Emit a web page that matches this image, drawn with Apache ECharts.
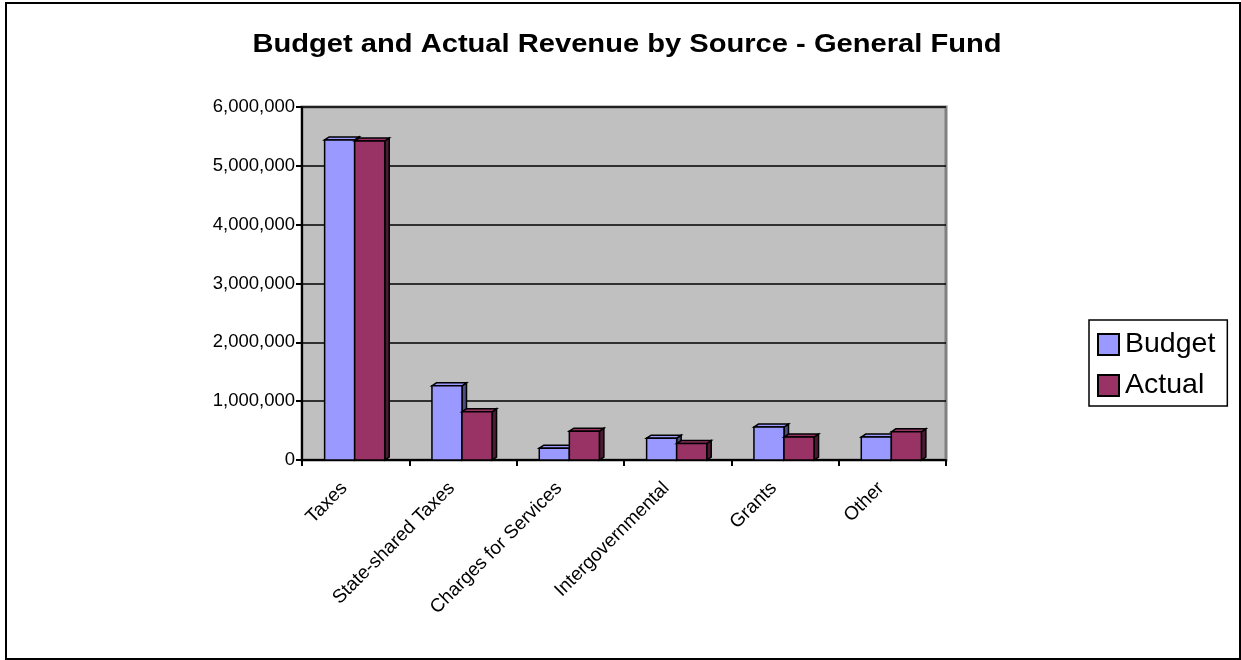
<!DOCTYPE html>
<html>
<head>
<meta charset="utf-8">
<style>
  html, body { margin: 0; padding: 0; background: #fff; }
  #chart { width: 1241px; height: 660px; }
</style>
<script src="https://cdn.jsdelivr.net/npm/echarts@6/dist/echarts.min.js"></script>
</head>
<body>
<div id="chart"></div>
<script>
// Revenue sources and amounts (dollars)
const categories = ['Taxes', 'State-shared Taxes', 'Charges for Services', 'Intergovernmental', 'Grants', 'Other'];
const budget = [5440000, 1260000, 200000, 370000, 560000, 390000];
const actual = [5420000, 820000, 490000, 280000, 390000, 480000];
const yTicks = { min: 0, max: 6000000, interval: 1000000 };
const titleText = 'Budget and Actual Revenue by Source - General Fund';

const FONT = '"Liberation Sans", Arial, sans-serif';

// Darken a hex colour for the shaded side face of a bar
function shade(hex, f) {
  const n = parseInt(hex.slice(1), 16);
  const r = Math.round(((n >> 16) & 255) * f);
  const g = Math.round(((n >> 8) & 255) * f);
  const b = Math.round((n & 255) * f);
  return 'rgb(' + r + ',' + g + ',' + b + ')';
}

// Box-style column: front face, top face and right side, placed with the axis scales
function boxBar(slot, color) {
  return function (params, api) {
    const i = api.value(0);
    const v = api.value(1);
    const base = api.coord([i, 0]);
    const top = api.coord([i, v]);
    const band = api.size([1, 0])[0];
    const w = band * 0.28;
    const dx = 4.5, dy = 3;
    const x0 = base[0] - w - 1 + slot * w;
    const y0 = top[1], yb = base[1];
    const stroke = { stroke: '#000', lineWidth: 1.5, lineJoin: 'miter' };
    return {
      type: 'group',
      children: [
        {
          type: 'polygon',
          shape: { points: [[x0 + w, y0], [x0 + w + dx, y0 - dy], [x0 + w + dx, yb - dy], [x0 + w, yb]] },
          style: Object.assign({ fill: shade(color, 0.5) }, stroke)
        },
        {
          type: 'polygon',
          shape: { points: [[x0, y0], [x0 + dx, y0 - dy], [x0 + w + dx, y0 - dy], [x0 + w, y0]] },
          style: Object.assign({ fill: color }, stroke)
        },
        {
          type: 'rect',
          shape: { x: x0, y: y0, width: w, height: yb - y0 },
          style: Object.assign({ fill: color }, stroke)
        }
      ]
    };
  };
}

const chart = echarts.init(document.getElementById('chart'), null, { renderer: 'canvas' });

chart.setOption({
  backgroundColor: '#fff',
  animation: false,
  legend: {
    orient: 'vertical',
    left: 1089,
    top: 320,
    padding: [10, 12, 6, 8],
    itemGap: 12,
    itemWidth: 21,
    itemHeight: 21,
    icon: 'rect',
    borderColor: '#000',
    borderWidth: 1.5,
    textStyle: { fontFamily: FONT, fontSize: 28.5, color: '#000', padding: [0, 0, 0, 1] },
    data: ['Budget', 'Actual']
  },
  grid: {
    left: 302,
    top: 107,
    right: 295,
    bottom: 200,
    show: true,
    backgroundColor: '#C0C0C0',
    borderColor: '#808080',
    borderWidth: 3
  },
  xAxis: {
    type: 'category',
    data: categories,
    boundaryGap: true,
    axisLine: { show: true, lineStyle: { color: '#000', width: 2 } },
    axisTick: { show: true, length: 6, lineStyle: { color: '#000', width: 2 } },
    axisLabel: {
      rotate: 45,
      margin: 14,
      interval: 0,
      padding: [0, 16, 0, 0],
      fontFamily: FONT,
      fontSize: 19,
      color: '#000'
    },
    splitLine: { show: false }
  },
  yAxis: {
    type: 'value',
    min: yTicks.min,
    max: yTicks.max,
    interval: yTicks.interval,
    axisLine: { show: true, lineStyle: { color: '#000', width: 2 } },
    axisTick: { show: true, length: 6, lineStyle: { color: '#000', width: 2 } },
    axisLabel: {
      margin: 7,
      fontFamily: FONT,
      fontSize: 18.5,
      color: '#000',
      formatter: function (v) { return v.toLocaleString('en-US'); }
    },
    splitLine: { show: true, lineStyle: { color: '#000', width: 1.5 } }
  },
  series: [
    {
      name: 'Budget',
      type: 'custom',
      renderItem: boxBar(0, '#9999FF'),
      itemStyle: { color: '#9999FF', borderColor: '#000', borderWidth: 1.5 },
      encode: { x: 0, y: 1 },
      data: budget.map(function (v, i) { return [i, v]; }),
      z: 3
    },
    {
      name: 'Actual',
      type: 'custom',
      renderItem: boxBar(1, '#993366'),
      itemStyle: { color: '#993366', borderColor: '#000', borderWidth: 1.5 },
      encode: { x: 0, y: 1 },
      data: actual.map(function (v, i) { return [i, v]; }),
      z: 4
    }
  ],
  graphic: [
    {
      // chart title, slightly widened
      type: 'text',
      x: 627,
      y: 45,
      scaleX: 1.12,
      style: {
        text: titleText,
        x: 0,
        y: 0,
        textAlign: 'center',
        textVerticalAlign: 'middle',
        fontFamily: FONT,
        fontWeight: 'bold',
        fontSize: 26,
        fill: '#000'
      },
      silent: true
    },
    {
      type: 'rect',
      shape: { x: 6, y: 3, width: 1234, height: 656 },
      style: { fill: 'none', stroke: '#000', lineWidth: 2 },
      silent: true,
      z: 100
    }
  ]
});
</script>
</body>
</html>
